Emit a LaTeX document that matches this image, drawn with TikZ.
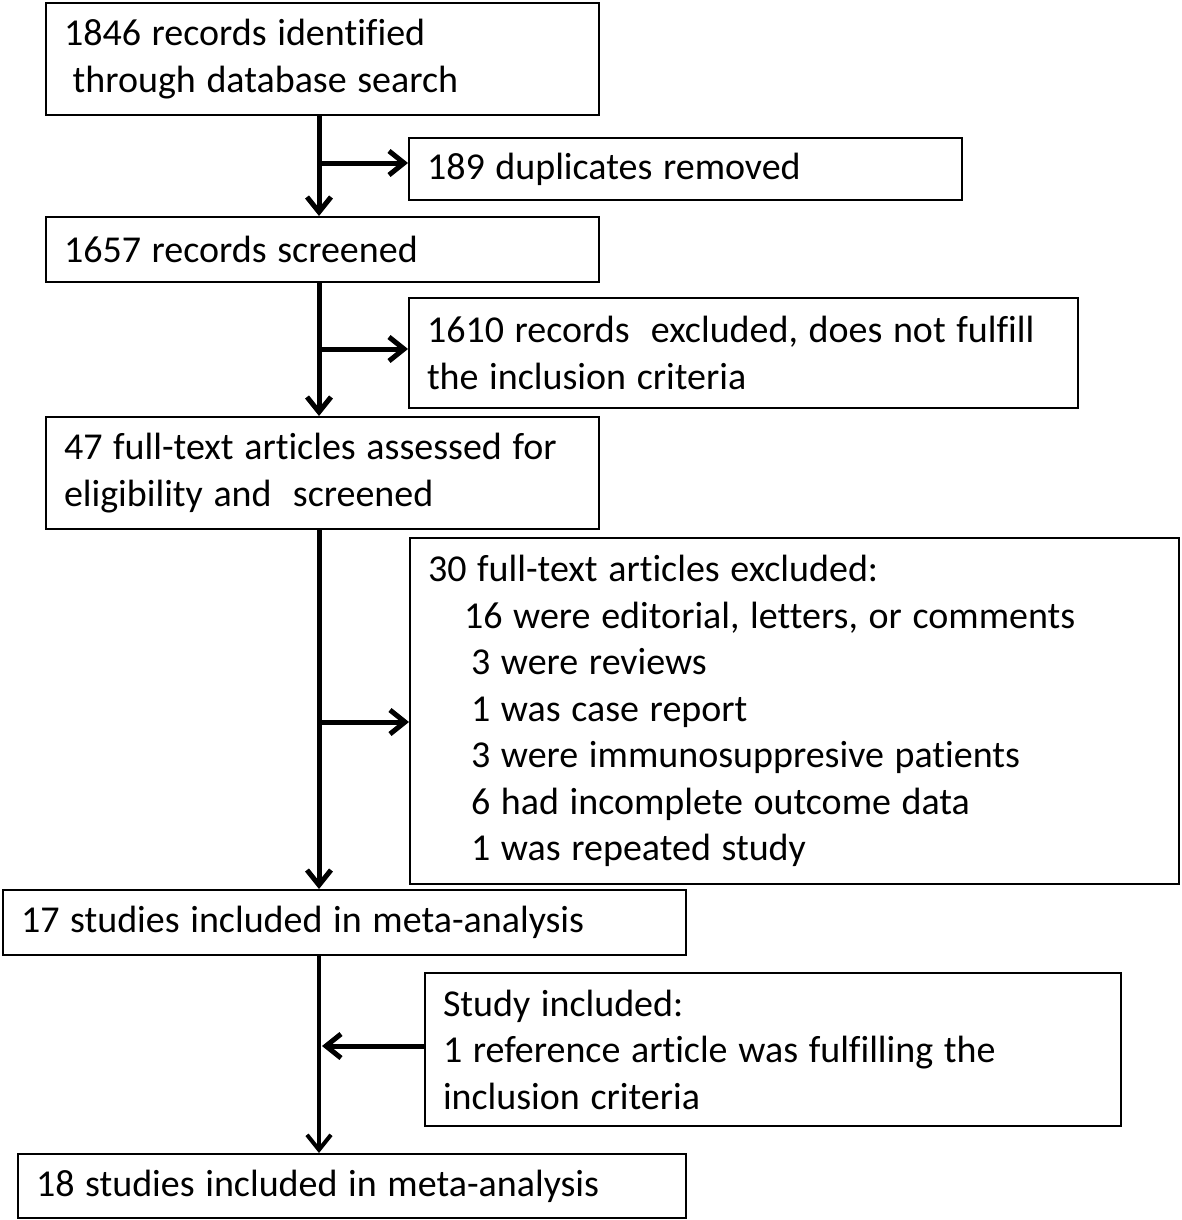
\documentclass[tikz,border=0pt]{standalone}
\usepackage{fontspec}
\setmainfont{Carlito}[Ligatures={NoCommon}]
\usetikzlibrary{arrows.meta,calc}
\newcommand{\boxfont}{\fontsize{38}{46.5}\selectfont}
\begin{document}
\begin{tikzpicture}[x=1pt,y=-1pt,
  box/.style={draw=black,line width=2pt,anchor=north west,inner xsep=18pt,inner ysep=0pt,
    align=left,font=\boxfont,
    execute at begin node={\spaceskip=0.28em plus 0.05em minus 0.02em\relax}},
  arr/.style={line width=5pt,-{Straight Barb[length=15pt,width=24pt]}},
  arrthin/.style={line width=4pt,-{Straight Barb[length=15pt,width=24pt]}}]
\useasboundingbox (0,0) rectangle (1181,1220);
\node[box,text width=517pt,minimum height=112pt] (b1) at (45,2)
  {1846 records identified\\\hspace*{0.23em}through database search};
\node[box,text width=517pt,minimum height=62pt] (b2) at (408,137)
  {189 duplicates removed};
\node[box,text width=517pt,minimum height=65pt] (b3) at (45,216)
  {1657 records screened};
\node[box,text width=633pt,minimum height=110pt] (b4) at (408,297)
  {1610 records~ excluded, does not fulfill\\the inclusion criteria};
\node[box,text width=517pt,minimum height=112pt] (b5) at (45,416)
  {47 full-text articles assessed for\\eligibility and~ screened};
\node[box,text width=733pt,minimum height=346pt] (b6) at (409,537)
  {30 full-text articles excluded:\\
   \hspace*{36pt}16 were editorial, letters, or comments\\
   \hspace*{43pt}3 were reviews\\
   \hspace*{43pt}1 was case report\\
   \hspace*{43pt}3 were immunosuppresive patients\\
   \hspace*{43pt}6 had incomplete outcome data\\
   \hspace*{43pt}1 was repeated study};
\node[box,text width=647pt,minimum height=65pt] (b7) at (2,889)
  {17 studies included in meta-analysis};
\node[box,text width=660pt,minimum height=153pt] (b8) at (424,972)
  {Study included:\\1 reference article was fulfilling the\\inclusion criteria};
\node[box,text width=632pt,minimum height=64pt] (b9) at (17,1153)
  {18 studies included in meta-analysis};
% connector geometry
\coordinate (v) at (319,0);
\coordinate (y1) at (0,163);
\coordinate (y2) at (0,349);
\coordinate (y3) at (0,722);
\coordinate (y4) at (0,1046);
\draw[arr] (v |- b1.south) -- (v |- b3.north);
\draw[arr] (v |- y1) -- (b2.west |- y1);
\draw[arr] (v |- b3.south) -- (v |- b5.north);
\draw[arr] (v |- y2) -- (b4.west |- y2);
\draw[arr] (v |- b5.south) -- (v |- b7.north);
\draw[arr] (v |- y3) -- (b6.west |- y3);
\draw[arrthin] (v |- b7.south) -- (v |- b9.north);
\draw[arr] (b8.west |- y4) -- ($(v |- y4)+(3,0)$);
\end{tikzpicture}
\end{document}
